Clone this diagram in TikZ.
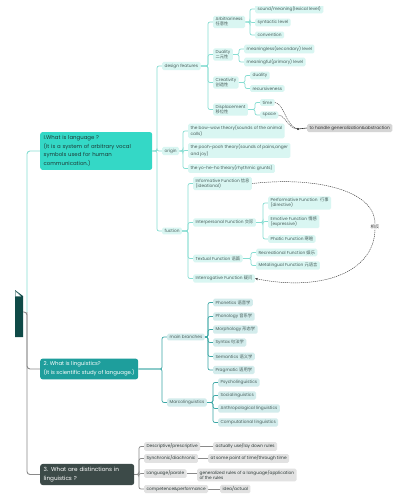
\documentclass[tikz,border=0pt]{standalone}
\usepackage{fontspec}
\setmainfont{Poppins}
\newfontfamily\cjk{Noto Sans CJK SC}
\usetikzlibrary{arrows.meta,backgrounds}
\newcommand\zh[1]{{\cjk #1}}
\newcommand\fsA{\fontsize{4.3}{5.0}\selectfont}
\newcommand\fsB{\fontsize{5.4}{8.8}\selectfont}
\definecolor{nonefill}{HTML}{34D8C6}
\definecolor{nonetext}{HTML}{1E3B38}
\definecolor{lone}{HTML}{86DDD2}
\definecolor{bone}{HTML}{D9F6F2}
\definecolor{bonetext}{HTML}{4A5F5C}
\definecolor{ntwofill}{HTML}{1E9E9C}
\definecolor{ltwo}{HTML}{3BA7A5}
\definecolor{btwo}{HTML}{D3ECEC}
\definecolor{nthreefill}{HTML}{3C4A48}
\definecolor{lthree}{HTML}{8A8A8A}
\definecolor{bthree}{HTML}{E2E2E2}
\definecolor{genfill}{HTML}{D5D5D5}
\definecolor{rootc}{HTML}{0F4A47}
\tikzset{
  box/.style={anchor=west, align=left, font=\fsA, rounded corners=1.5pt, inner xsep=2.4pt, inner ysep=1.8pt},
  bone/.style={box, fill=bone, text=bonetext},
  btwo/.style={box, fill=btwo, text=bonetext},
  bthree/.style={box, fill=bthree, text=bonetext!60!black},
  bgen/.style={box, fill=genfill, text=black!80},
  big/.style={anchor=west, align=left, font=\fsB, rounded corners=2.5pt, inner xsep=3.5pt, inner ysep=3.2pt},
  lineone/.style={draw=lone, line width=0.7pt, rounded corners=2pt},
  linetwo/.style={draw=ltwo, line width=0.7pt, rounded corners=2pt},
  linethree/.style={draw=lthree, line width=0.7pt, rounded corners=2pt},
  dashcon/.style={draw=black!75, line width=0.45pt, dash pattern=on 1.2pt off 0.8pt},
}
\newcommand\con[3]{\draw[#1] (#3.west) -- ++(-5,0) |- (#2.east);}
\begin{document}
\begin{tikzpicture}[x=1pt,y=-1pt]
\useasboundingbox (0,0) rectangle (398,495);
\begin{scope}
\clip (0,6.5) rectangle (398,495);
% ---------- section 1
\node[big, fill=nonefill, text=nonetext, text width=105pt] (n1) at (40,151) {I.What is language ?\\(It is a system of arbitrary vocal\\symbols used for human\\communication.)};
\node[bone] (df) at (162,66) {design features};
\node[bone] (origin) at (162,151) {origin};
\node[bone] (fuc) at (162,231) {fuction};

\node[bone] (arb) at (213,22) {Arbitrariness\\\zh{任意性}};
\node[bone] (top) at (255,9) {sound/meaning(lexical level)};
\node[bone] (syn) at (255,22.5) {syntactic level};
\node[bone] (conv) at (255,35) {convention};
\node[bone] (dual) at (213,54.5) {Duality\\\zh{二元性}};
\node[bone] (mless) at (244,49) {meaningless(secondary) level};
\node[bone] (mful) at (244,62) {meaningful(primary) level};
\node[bone] (crea) at (213,82.5) {Creativity\\\zh{创造性}};
\node[bone] (dua) at (250,75.5) {duality};
\node[bone] (rec) at (250,88.5) {recursiveness};
\node[bone] (disp) at (213,109.5) {Displacement\\\zh{移位性}};
\node[bone] (time) at (260,102.5) {time};
\node[bone] (space) at (260,115) {space};
\node[bgen] (gen) at (307,128) {to handle generalization\&abstraction};
\coordinate (j) at (298,129);

\node[bone] (bow) at (188,131) {the bow-wow theory(sounds of the animal\\calls)};
\node[bone] (pooh) at (188,150.5) {the pooh-pooh theory(sounds of pains,anger\\and joy)};
\node[bone] (yo) at (188,168.5) {the yo-he-ho theory(rhythmic grunts)};

\node[bone] (info) at (193,183.5) {Informative Function \zh{信息}\\(ideational)};
\node[bone] (inter) at (193,222.5) {Interpersonal Function \zh{交际}};
\node[bone] (perf) at (268,203) {Performative Function \ \zh{行事}\\(directive)};
\node[bone] (emo) at (268,221.5) {Emotive Function \zh{情感}\\(expressive)};
\node[bone] (phat) at (268,239) {Phatic Function \zh{寒暄}};
\node[bone] (textf) at (193,258.5) {Textual Function \zh{语篇}};
\node[bone] (recr) at (256,252.5) {Recreational Function \zh{娱乐}};
\node[bone] (meta) at (256,265.5) {Metalingual Function \zh{元语言}};
\node[bone] (interr) at (193,278.5) {Interrogative Function \zh{疑问}};
\node[font=\fsA, text=black!80, inner sep=0.5pt] (opp) at (375,227) {\zh{相反}};

% ---------- section 2
\node[big, fill=ntwofill, text=white] (n2) at (40,369) {2. What is linguistics?\\(It is scientific study of language.)};
\node[btwo] (mb) at (167,337) {main branches};
\node[btwo] (macro) at (167,402.5) {Marcolinguistics};
\node[btwo] (ph1) at (213,302.5) {Phonetics \zh{语音学}};
\node[btwo] (ph2) at (213,316.5) {Phonology \zh{音系学}};
\node[btwo] (mor) at (213,329.5) {Morphology \zh{形态学}};
\node[btwo] (syx) at (213,342.5) {Syntax \zh{句法学}};
\node[btwo] (sem) at (213,356.5) {Semantics \zh{语义学}};
\node[btwo] (pra) at (213,370) {Pragmatic \zh{语用学}};
\node[btwo] (psy) at (218,382.5) {Psycholinguistics};
\node[btwo] (soc) at (218,395.5) {Socialinguistics};
\node[btwo] (ant) at (218,408.5) {Anthropological linguistics};
\node[btwo] (com) at (218,422.5) {Computational linguistics};

% ---------- section 3
\node[big, fill=nthreefill, text=white, text width=87pt, font=\fontsize{5.7}{8.8}\selectfont] (n3) at (40,474.5) {3. What are distinctions in\\linguistics ?};
\node[bthree] (d1) at (144,446.5) {Descriptive/prescriptive};
\node[bthree] (d2) at (144,458.5) {Synchronic/diachronic};
\node[bthree] (d3) at (144,473.5) {Language/parole};
\node[bthree] (d4) at (144,489) {competence\&performance};
\node[bthree] (e1) at (213,446.5) {actually use/lay down rules};
\node[bthree] (e2) at (208,458.5) {at some point of time/through time};
\node[bthree] (e3) at (197,475) {generalized rules of a language/application\\of the rules};
\node[bthree] (e4) at (220,489) {idea/actual};

% root stub
\fill[rootc] (15,290) -- (23,296) -- (23,337) -- (15,337) -- cycle;
\filldraw[fill=white, draw=rootc!60, line width=0.3pt] (15.4,291) -- (21,296.3) -- (15.4,296.3) -- cycle;

\begin{pgfonlayer}{background}
\fill[white] (0,0) rectangle (398,495);
% spine
\draw[lineone, line width=0.9pt, rounded corners=3pt] (27,312) |- (n1.west);
\draw[draw=lthree, line width=0.9pt, rounded corners=3pt] (23,312) -- (27,312) |- (n2.west);
\draw[draw=lthree, line width=0.9pt, rounded corners=3pt] (27,312) |- (n3.west);
% section 1
\foreach \c in {df,origin,fuc} {\con{lineone}{n1}{\c}}
\foreach \c in {arb,dual,crea,disp} {\con{lineone}{df}{\c}}
\foreach \c in {top,syn,conv} {\con{lineone}{arb}{\c}}
\foreach \c in {mless,mful} {\con{lineone}{dual}{\c}}
\foreach \c in {dua,rec} {\con{lineone}{crea}{\c}}
\foreach \c in {time,space} {\con{lineone}{disp}{\c}}
\foreach \c in {bow,pooh,yo} {\con{lineone}{origin}{\c}}
\foreach \c in {info,inter,textf,interr} {\con{lineone}{fuc}{\c}}
\foreach \c in {perf,emo,phat} {\con{lineone}{inter}{\c}}
\foreach \c in {recr,meta} {\con{lineone}{textf}{\c}}
% section 2
\foreach \c in {mb,macro} {\con{linetwo}{n2}{\c}}
\foreach \c in {ph1,ph2,mor,syx,sem,pra} {\con{linetwo}{mb}{\c}}
\foreach \c in {psy,soc,ant,com} {\con{linetwo}{macro}{\c}}
% section 3
\foreach \c in {d1,d2,d3,d4} {\con{linethree}{n3}{\c}}
\draw[linethree] (d1.east) -- (e1.west);
\draw[linethree] (d2.east) -- (e2.west);
\draw[linethree] (d3.east) -- (d3.east -| e3.west);
\draw[linethree] (d4.east) -- (e4.west);
\end{pgfonlayer}

% summary arrows
\draw[dashcon] (time.east) .. controls (284,103) and (286,127) .. (j);
\draw[dashcon] (space.east) .. controls (286,116) and (288,129) .. (j);
\fill[black!85] (j) circle (1.2pt);
\draw[black!80, line width=0.6pt] (j) -- (gen.west);
% opposite curve
\draw[dashcon] (info.east) .. controls (320,176) and (376,192) .. (opp.north);
\draw[dashcon, -{Stealth[length=3pt,width=2.4pt]}] (opp.south) .. controls (374,272) and (322,292) .. (interr.east);
\end{scope}
\end{tikzpicture}
\end{document}
